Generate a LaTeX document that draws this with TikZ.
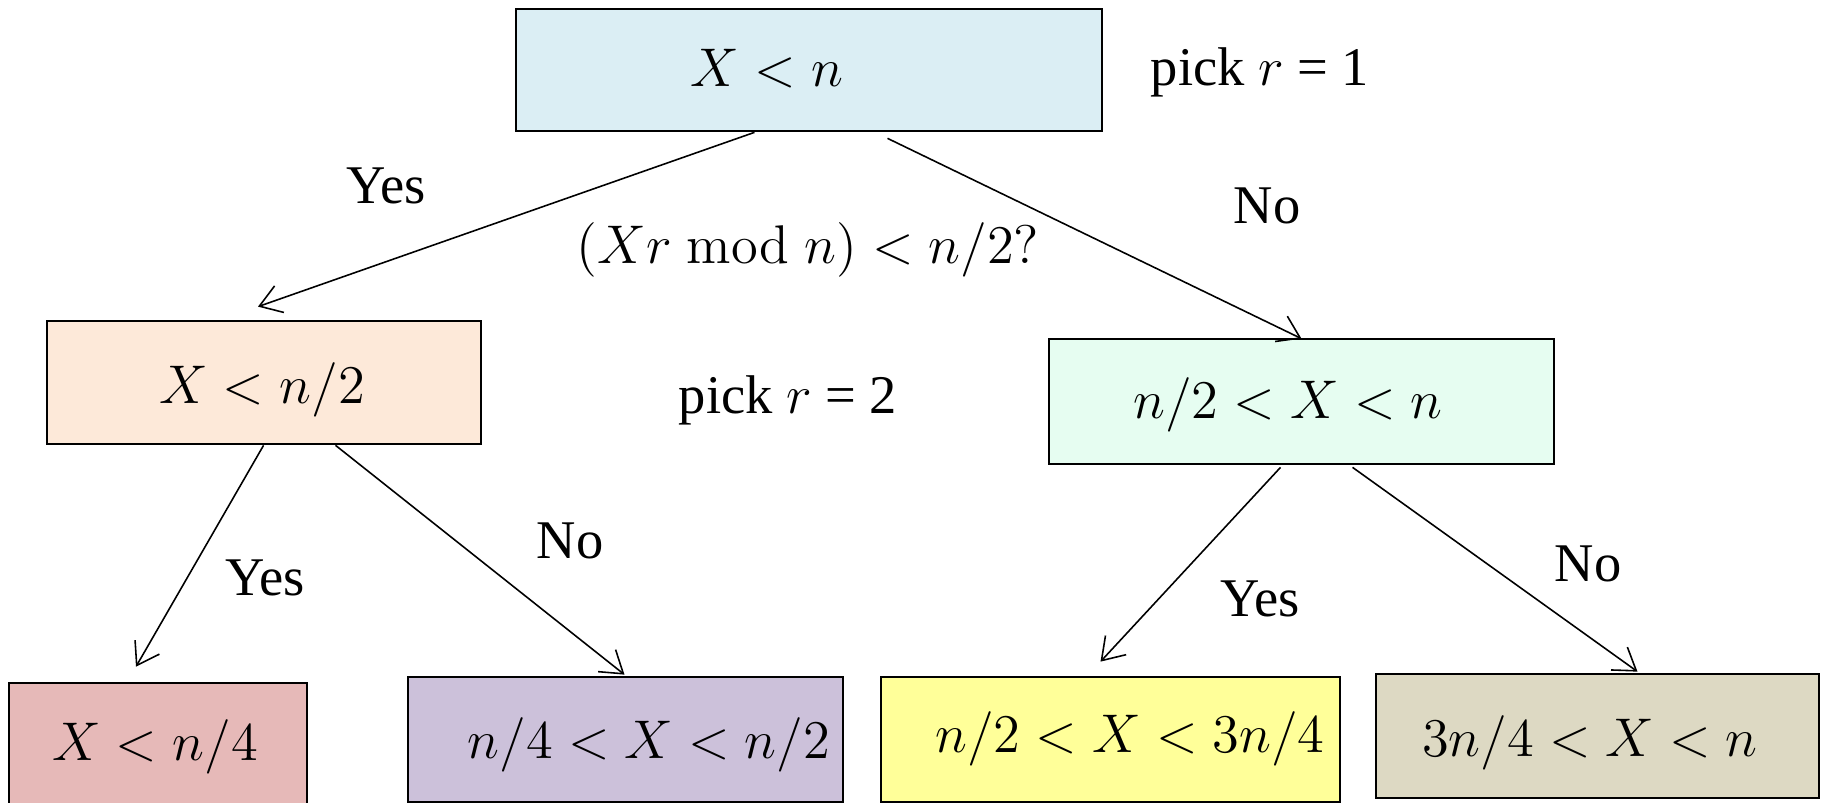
\RequirePackage{fix-cm}
\documentclass[tikz,border=0pt]{standalone}
\usepackage[no-math]{fontspec}
\setmainfont{Liberation Serif}
\usetikzlibrary{arrows.meta,calc}
\definecolor{cTop}{HTML}{DBEEF4}
\definecolor{cLeft}{HTML}{FDE9D9}
\definecolor{cRight}{HTML}{E6FDF1}
\definecolor{cPink}{HTML}{E6B9B8}
\definecolor{cLav}{HTML}{CCC1DA}
\definecolor{cYel}{HTML}{FFFF99}
\definecolor{cGrey}{HTML}{DDD9C3}
\newcommand\mfont{\fontsize{15.5}{18}\selectfont}
\newcommand\lfont{\fontsize{15.5}{18}\selectfont}
\tikzset{
  box/.style={draw, line width=0.75pt, inner sep=0pt, anchor=center},
  mtext/.style={anchor=base, inner sep=0pt, font=\mfont},
  lbl/.style={anchor=base, inner sep=0pt, font=\lfont},
  arr/.style={-{Straight Barb[length=6pt,width=8pt]}, line width=0.45pt}
}
\begin{document}
\begin{tikzpicture}[x=0.01cm,y=-0.01cm]
\clip (0,0) rectangle (1823,803);
\fill[white] (0,0) rectangle (1823,803);
% boxes
\node[box, fill=cTop,   minimum width=5.86cm, minimum height=1.22cm] (b0) at (809,70) {};
\node[box, fill=cLeft,  minimum width=4.34cm, minimum height=1.23cm] (bl) at (264,382.5) {};
\node[box, fill=cRight, minimum width=5.05cm, minimum height=1.25cm] (br) at (1301.5,401.5) {};
\node[box, fill=cPink,  minimum width=2.98cm, minimum height=1.27cm] (p1) at (158,746.5) {};
\node[box, fill=cLav,   minimum width=4.35cm, minimum height=1.25cm] (p2) at (625.5,739.5) {};
\node[box, fill=cYel,   minimum width=4.59cm, minimum height=1.25cm] (p3) at (1110.5,739.5) {};
\node[box, fill=cGrey,  minimum width=4.43cm, minimum height=1.24cm] (p4) at (1597.5,736) {};
% box texts
\node[mtext] (t0) at (767,87) {$X < n$};
\node[mtext] (tl) at (262,403) {$X < n/2$};
\node[mtext] (tr) at (1288,418) {$n/2 < X < n$};
\node[mtext] (t1) at (155,760) {$X < n/4$};
\node[mtext] (t2) at (649,758) {$n/4 < X < n/2$};
\node[mtext] (t3) at (1130,752) {$n/2 < X < 3n/4$};
\node[mtext] (t4) at (1590,756) {$3n/4 < X < n$};
% other texts
\node[mtext] (q) at (808,263) {$(Xr \bmod n) < n/2?$};
\node[lbl] (pick1) at (1260,85) {pick $r$ = 1};
\node[lbl] (pick2) at (788,413) {pick $r$ = 2};
\node[lbl] (y0) at (386,203) {Yes};
\node[lbl] (n0) at (1267,223) {No};
\node[lbl] (y1) at (265,595) {Yes};
\node[lbl] (n1) at (570,558) {No};
\node[lbl] (y2) at (1260,616) {Yes};
\node[lbl] (n2) at (1588,581) {No};
% connectors
\draw[arr] ($(b0.south west)+(240,0)$) -- ($(bl.north)+(-6,-13)$);
\draw[arr] ($(b0.south west)+(373,6)$) -- ($(br.north)+(0,1)$);
\draw[arr] ($(bl.south west)+(218,0)$) -- ($(p1.north)+(-22,-15)$);
\draw[arr] ($(bl.south west)+(290,0)$) -- ($(p2.north)+(-1,-1)$);
\draw[arr] ($(br.south west)+(233,2)$) -- ($(p3.north)+(-10,-14)$);
\draw[arr] ($(br.south west)+(305,2)$) -- ($(p4.north)+(40,-1)$);
\end{tikzpicture}
\end{document}
